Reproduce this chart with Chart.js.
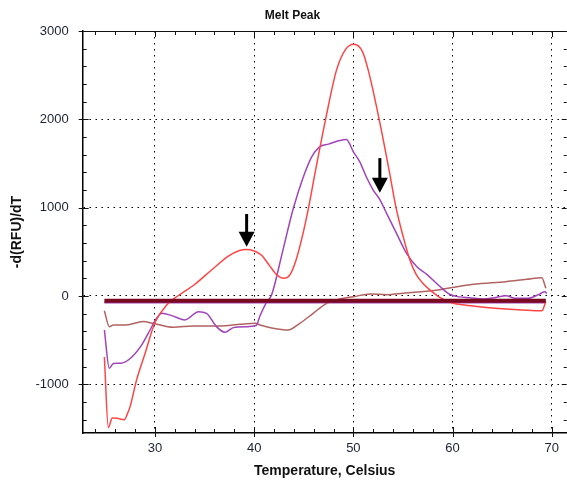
<!DOCTYPE html>
<html><head><meta charset="utf-8">
<script src="https://cdn.jsdelivr.net/npm/chart.js@4.4.0/dist/chart.umd.min.js"></script>
<style>html,body{margin:0;padding:0;background:#fff;} #wrap{width:567px;height:483px;}</style>
</head><body><div id="wrap"><canvas id="c" width="567" height="483"></canvas></div>
<script>
const chartTitle = 'Melt Peak';
const xAxisTitle = 'Temperature, Celsius';
const yAxisTitle = '-d(RFU)/dT';
const xTickValues = [24,26,28,30,32,34,36,38,40,42,44,46,48,50,52,54,56,58,60,62,64,66,68,70];
const yTickValues = [-1400,-1200,-1000,-800,-600,-400,-200,0,200,400,600,800,1000,1200,1400,1600,1800,2000,2200,2400,2600,2800,3000];

const redTemps = [24.9,25.3,25.7,26.2,26.9,27.2,27.5,28.15,29.0,30.0,31.2,32.3,34.0,35.7,37.4,38.4,39.2,40.0,40.75,41.6,42.3,43.0,43.6,44.2,44.8,45.5,46.2,47.2,48.3,49.2,50.05,50.9,51.5,52.6,53.6,54.3,55.0,55.7,56.3,57.0,57.8,58.7,59.9,61.0,62.7,64.0,65.4,67.0,69.0,69.4];
const redValues = [-690,-1490,-1380,-1385,-1400,-1340,-1250,-950,-650,-300,-100,0,130,294,452,510,525,510,462,335,238,200,240,400,650,1010,1430,2000,2557,2790,2850,2770,2557,2000,1425,1000,680,407,250,144,60,-15,-76,-100,-121,-135,-147,-158,-168,-60];

const purpleTemps = [24.9,25.4,25.8,26.6,27.65,28.66,29.5,30.17,30.7,31.7,33.0,34.4,35.2,36.2,37.05,37.9,39.2,40.2,40.6,41.2,41.75,42.9,43.9,44.9,45.8,46.6,47.5,48.5,49.3,50.0,50.65,51.3,52.0,52.7,53.35,54.35,55.36,56.4,57.4,58.7,59.7,60.7,61.7,63.1,64.25,65.4,66.3,67.6,68.8,69.3,69.5];
const purpleValues = [-385,-818,-765,-760,-693,-554,-385,-252,-196,-222,-271,-177,-196,-347,-411,-358,-347,-335,-220,-80,11,520,973,1331,1576,1689,1719,1757,1773,1632,1519,1350,1199,1086,935,709,483,331,245,110,20,-10,-19,-34,-19,3,-26,-26,23,49,30];

const brownTemps = [24.9,25.4,25.8,27.1,28.8,29.8,31.85,33.9,36.5,38.6,40.1,40.6,41.9,43.4,44.6,45.95,47.3,48.6,50.0,51.7,53.35,55.0,58.7,62.1,65.4,67.45,69.0,69.4];
const brownValues = [-166,-347,-328,-328,-290,-309,-354,-339,-339,-320,-309,-328,-365,-385,-309,-196,-83,-35,-8,23,15,30,72,132,162,189,207,87];

const baselineTemps = [24.9,69.4];
const baselineValues = [-53,-53];
const flatPurpleTemps = [24.9,69.4];
const flatPurpleValues = [-75,-75];

const arrowTemps = [39.24,52.67];
const arrowTopValues = [928,1561];
const arrowTipValues = [558,1169];

const FONT = "'Liberation Sans', Arial, sans-serif";
const pts = (t, v) => t.map((x, i) => ({x: x, y: v[i]}));

const mk = (label, t, v, color, w) => ({
  label, data: pts(t, v), borderColor: color, backgroundColor: color,
  borderWidth: w, pointRadius: 0, fill: false, cubicInterpolationMode: 'monotone'
});

const frameTicks = {
  id: 'frameTicks',
  afterDraw(chart) {
    const ctx = chart.ctx, a = chart.chartArea;
    const xs = chart.scales.x, ys = chart.scales.y;
    ctx.save();
    ctx.strokeStyle = '#111';
    ctx.lineWidth = 1;
    ctx.beginPath();
    ctx.moveTo(a.left, a.top + 0.5); ctx.lineTo(a.right, a.top + 0.5);
    xs.ticks.forEach(t => {
      const p = Math.round(xs.getPixelForValue(t.value)) + 0.5;
      const major = t.value % 10 === 0;
      ctx.moveTo(p, a.bottom - (major ? 6 : 4)); ctx.lineTo(p, a.bottom + (major ? 4 : 0));
      ctx.moveTo(p, a.top); ctx.lineTo(p, a.top + (major ? 6 : 4));
    });
    ys.ticks.forEach(t => {
      const p = Math.round(ys.getPixelForValue(t.value)) + 0.5;
      const major = t.value % 1000 === 0;
      ctx.moveTo(a.left - (major ? 4 : 0), p); ctx.lineTo(a.left + (major ? 6 : 4), p);
      ctx.moveTo(a.right - (major ? 5 : 3), p); ctx.lineTo(a.right, p);
    });
    ctx.stroke();
    ctx.fillStyle = '#000';
    ctx.strokeStyle = '#000';
    arrowTemps.forEach((t, i) => {
      const x = xs.getPixelForValue(t);
      const yTop = ys.getPixelForValue(arrowTopValues[i]);
      const yTip = ys.getPixelForValue(arrowTipValues[i]);
      const headH = 15, headW = 8;
      ctx.lineWidth = 3;
      ctx.beginPath();
      ctx.moveTo(x, yTop); ctx.lineTo(x, yTip - headH + 1);
      ctx.stroke();
      ctx.beginPath();
      ctx.moveTo(x - headW, yTip - headH);
      ctx.lineTo(x + headW, yTip - headH);
      ctx.lineTo(x, yTip);
      ctx.closePath();
      ctx.fill();
    });
    ctx.restore();
  },
  afterLayout(chart) {
    if (chart.titleBlock) { chart.titleBlock.left += 9; chart.titleBlock.right += 9; }
  }
};

new Chart(document.getElementById('c'), {
  type: 'line',
  data: {
    datasets: [
      mk('Baseline', baselineTemps, baselineValues, '#7A0A20', 4),
      mk('Sample A', redTemps, redValues, '#FF4545', 1.5),
      mk('Sample B', purpleTemps, purpleValues, '#A044B8', 1.5),
      mk('Sample C', brownTemps, brownValues, '#B36262', 1.5),
      mk('NTC', flatPurpleTemps, flatPurpleValues, '#A044B8', 2)
    ]
  },
  options: {
    responsive: false,
    animation: false,
    layout: {padding: {left: 0, right: 0, top: 0, bottom: 0}},
    plugins: {
      legend: {display: false},
      tooltip: {enabled: false},
      title: {display: true, text: chartTitle, color: '#111',
        font: {family: FONT, size: 12, weight: 'bold'}, padding: {top: 8, bottom: 8.6}}
    },
    scales: {
      x: {
        type: 'linear', min: 22.715, max: 71.51,
        afterBuildTicks: s => { s.ticks = xTickValues.map(v => ({value: v})); },
        afterFit: s => { s.height = 50; },
        ticks: {autoSkip: false, maxRotation: 0, includeBounds: false, padding: 8,
          color: '#1c2233', font: {family: FONT, size: 13},
          callback: v => (v % 10 === 0 ? String(v) : '')},
        grid: {drawTicks: false,
          color: c => (c.tick && c.tick.value % 10 === 0 ? '#000' : 'rgba(0,0,0,0)'), lineWidth: 1},
        border: {display: true, color: '#000', width: 1.5, dash: [1.5, 4.5]},
        title: {display: true, text: xAxisTitle, color: '#111',
          font: {family: FONT, size: 14, weight: 'bold'}, padding: {top: 0, bottom: 3.6}}
      },
      y: {
        type: 'linear', min: -1551, max: 3000,
        afterBuildTicks: s => { s.ticks = yTickValues.map(v => ({value: v})); },
        afterFit: s => { s.width = 82.7; },
        ticks: {autoSkip: false, includeBounds: false, padding: 14,
          color: '#1c2233', font: {family: FONT, size: 13},
          callback: v => (v % 1000 === 0 ? String(v) : '')},
        grid: {drawTicks: false,
          color: c => (c.tick && c.tick.value % 1000 === 0 && c.tick.value !== 3000 ? '#000' : 'rgba(0,0,0,0)'), lineWidth: 1},
        border: {display: true, color: '#000', width: 1.5, dash: [1.5, 4.5]},
        title: {display: true, text: yAxisTitle, color: '#111',
          font: {family: FONT, size: 14, weight: 'bold'}, padding: {top: 8.6, bottom: 0}}
      }
    }
  },
  plugins: [frameTicks]
});
</script>
</body></html>
